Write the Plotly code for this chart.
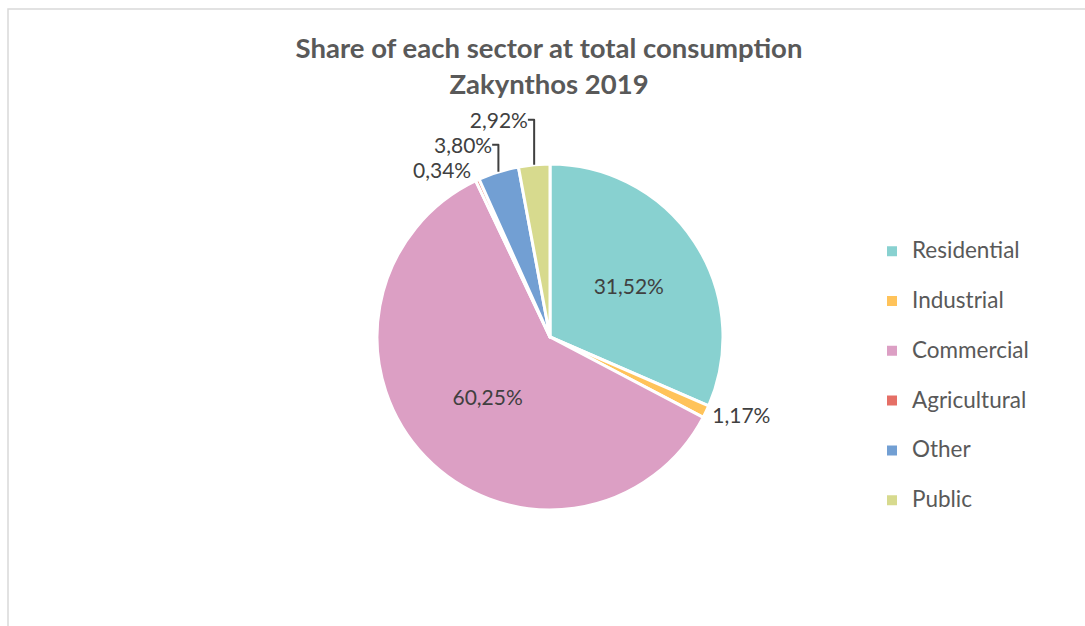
import plotly.graph_objects as go

# Sector shares of total electricity consumption, Zakynthos 2019 (%)
sectors = ["Residential", "Industrial", "Commercial", "Agricultural", "Other", "Public"]
shares = [31.52, 1.17, 60.25, 0.34, 3.80, 2.92]
colors = ["#88D1D0", "#FFC35A", "#DC9FC4", "#E56F66", "#729FD3", "#D7DA8E"]
label_positions = ["inside", "outside", "inside", "outside", "outside", "outside"]

W, H = 1085, 626
FONT = "Lato, 'Open Sans', sans-serif"

# legend entries: larger label text on the first line, blank second line for spacing
legend_labels = [
    "<span style='font-size:22.5px'>" + s + "</span><br>&nbsp;" for s in sectors
]

fig = go.Figure(
    go.Pie(
        labels=legend_labels,
        values=shares,
        sort=False,
        direction="clockwise",
        rotation=0,
        marker=dict(colors=colors, line=dict(color="white", width=3)),
        texttemplate="%{percent:.2%}",
        textposition=label_positions,
        textfont=dict(family=FONT, size=21, color="#404040"),
        insidetextorientation="horizontal",
        hovertemplate="%{customdata}: %{percent:.2%}<extra></extra>",
        customdata=sectors,
        domain=dict(x=[377 / W, 723 / W], y=[1 - 510 / H, 1 - 164 / H]),
    )
)

fig.update_layout(
    width=W,
    height=H,
    margin=dict(l=0, r=0, t=0, b=0),
    paper_bgcolor="white",
    separators=",.",
    title=dict(
        text="<b>Share of each sector at total consumption<br>Zakynthos 2019</b>",
        x=549 / W,
        xanchor="center",
        y=1 - 58 / H,
        yanchor="top",
        font=dict(family=FONT, size=27.5, color="#595959"),
    ),
    legend=dict(
        x=872 / W,
        y=1 - 233 / H,
        xanchor="left",
        yanchor="top",
        valign="top",
        font=dict(family=FONT, size=18, color="#595959"),
        itemsizing="constant",
        bgcolor="rgba(0,0,0,0)",
    ),
    shapes=[
        dict(
            type="rect",
            xref="paper",
            yref="paper",
            x0=8 / W,
            x1=1.05,
            y0=-0.05,
            y1=1 - 9 / H,
            line=dict(color="#D9D9D9", width=1.5),
            fillcolor="rgba(0,0,0,0)",
            layer="below",
        )
    ],
)

fig.write_html("out.html")
